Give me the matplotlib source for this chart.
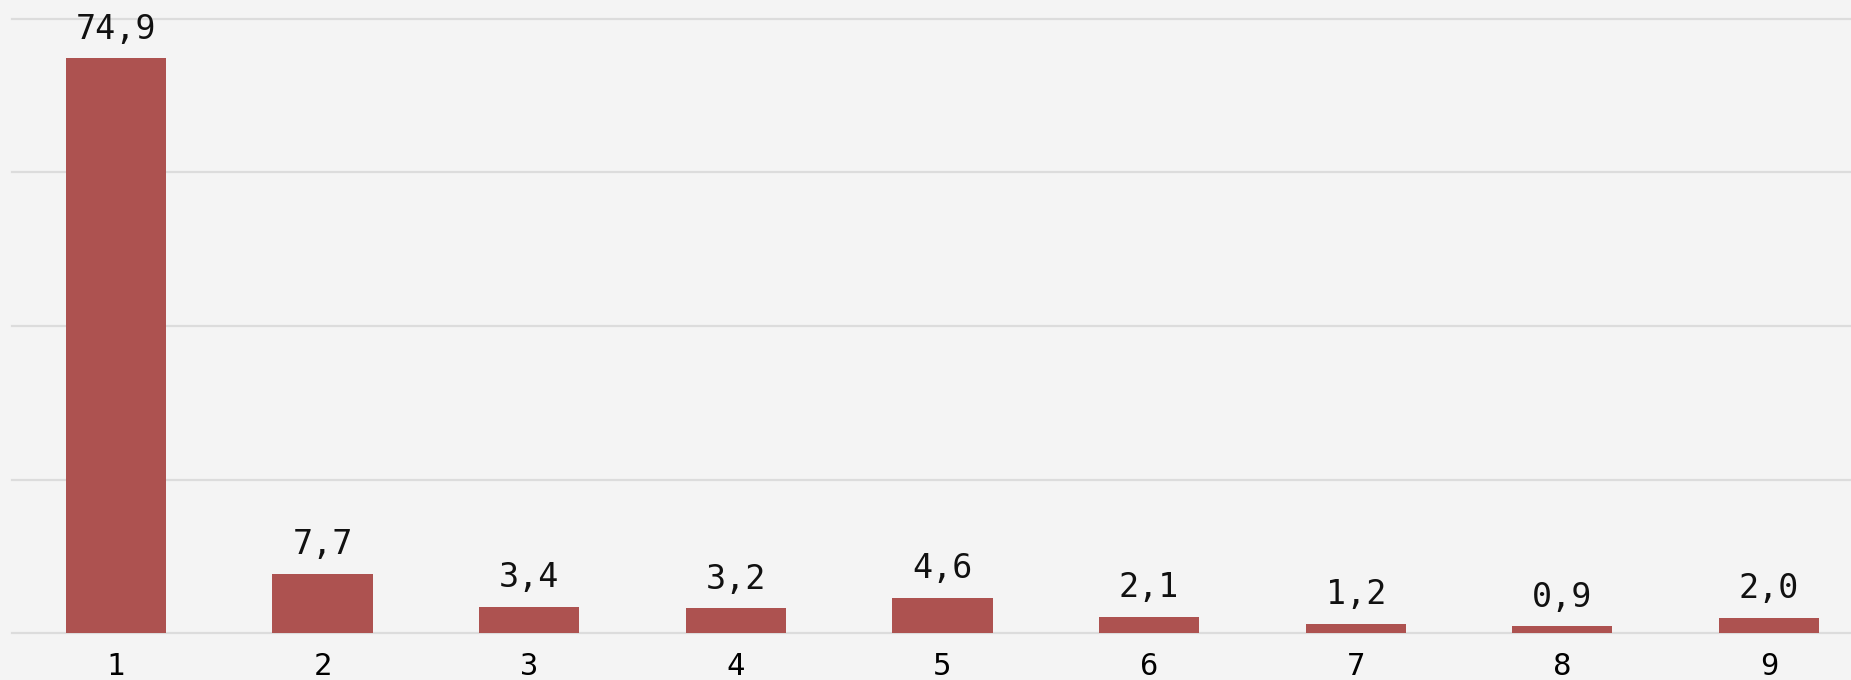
import numpy as np
import matplotlib.pyplot as plt

categories = ["1", "2", "3", "4", "5", "6", "7", "8", "9"]
values = [74.9, 7.7, 3.4, 3.2, 4.6, 2.1, 1.2, 0.9, 2.0]

bg = "#f4f4f4"
fig = plt.figure(figsize=(18.51, 6.80), dpi=100, facecolor=bg)
ax = fig.add_axes([12 / 1851, 47 / 680, 1839 / 1851, 614 / 680], facecolor=bg)

x = np.arange(len(categories))
bars = ax.bar(x, values, width=0.485, color="#ad5250", zorder=3)

for xi, v in zip(x, values):
    ax.annotate(f"{v:.1f}".replace(".", ","), (xi, v), xytext=(0, 9),
                textcoords="offset points", ha="center", va="bottom",
                fontsize=24, family="DejaVu Sans Mono", color="#111111")

ax.set_xlim(-0.503, 8.397)
ax.set_ylim(0, 80)
ax.set_yticks([0, 20, 40, 60, 80])
ax.yaxis.grid(True, color="#dcdcdc", linewidth=1.6, zorder=0)
for gl in ax.get_ygridlines():
    gl.set_clip_on(False)
ax.tick_params(axis="y", left=False, labelleft=False)
ax.set_xticks(x)
ax.set_xticklabels(categories, fontsize=22, family="DejaVu Sans Mono")
ax.tick_params(axis="x", length=0, pad=14)
for s in ax.spines.values():
    s.set_visible(False)

fig.savefig("out.png", dpi=100, facecolor=bg)
